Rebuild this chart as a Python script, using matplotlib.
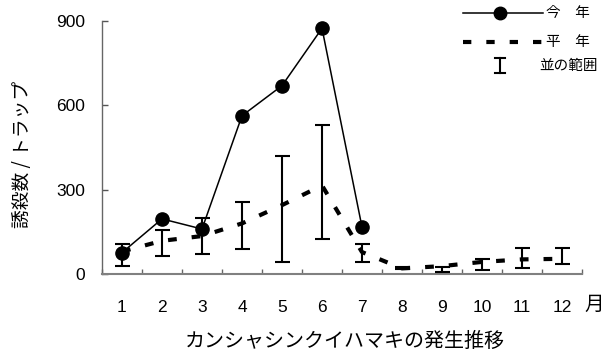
import matplotlib
matplotlib.use('Agg')
import matplotlib.pyplot as plt
from matplotlib.lines import Line2D
import numpy as np

plt.rcParams['font.family'] = ['Liberation Sans', 'Noto Sans CJK JP']

# ---- data ----
months = [1, 2, 3, 4, 5, 6, 7, 8, 9, 10, 11, 12]
month_labels = ['1', '2', '3', '4', '5', '6', '7', '8', '9', '10', '11', '12']
this_year_months = [1, 2, 3, 4, 5, 6, 7]
this_year = [76, 196, 160, 563, 670, 874, 167]
normal_year = [80, 118, 135, 180, 245, 315, 78, 20, 28, 43, 52, 54]
range_low = [30, 64, 72, 88, 43, 123, 43, 17, 8, 14, 22, 34]
range_high = [108, 157, 199, 256, 420, 531, 107, 26, 26, 52, 94, 94]
yticks = [0, 300, 600, 900]
ytick_labels = ['0', '300', '600', '900']

legend_labels = ['今\u3000年', '平\u3000年', '並の範囲']
ylabel = '誘殺数 / トラップ'
xunit = '月'
title = 'カンシャシンクイハマキの発生推移'

W, H = 605, 355
fig = plt.figure(figsize=(W / 100, H / 100), dpi=100)

def fx(px):
    return px / W

def fy(py):
    return 1 - py / H

ax = fig.add_axes([fx(102), fy(274), fx(582) - fx(102), fy(21) - fy(274)])

low = np.array(range_low, dtype=float)
high = np.array(range_high, dtype=float)
mid = (low + high) / 2

# normal-year dashed line
ax.plot(months, normal_year, color='black', lw=3.0,
        linestyle=(0, (2.1, 3.6)), dash_capstyle='butt', zorder=2)
# range bars
ax.errorbar(months, mid, yerr=[mid - low, high - mid], fmt='none',
            ecolor='black', elinewidth=1.5, capsize=5.4, capthick=1.5, zorder=3)
# this year
ax.plot(this_year_months, this_year, color='black', lw=1.1, marker='o',
        ms=9.5, zorder=4)

ax.set_xlim(0.5, 12.5)
ax.set_ylim(0, 900)

for s in ['top', 'right']:
    ax.spines[s].set_visible(False)
ax.spines['left'].set_color('#666666')
ax.spines['left'].set_linewidth(1.0)
ax.spines['bottom'].set_color('#808080')
ax.spines['bottom'].set_linewidth(1.5)

ax.set_yticks(yticks)
ax.set_yticklabels(ytick_labels, fontsize=12.5)
ax.tick_params(axis='y', direction='in', length=4.5, width=1.0,
               color='#555555', pad=12)

ax.set_xticks(np.arange(0.5, 13.0, 1.0))
ax.set_xticklabels([])
ax.tick_params(axis='x', which='major', direction='in', length=3.8,
               width=1.0, color='#666666')
ax.set_xticks(months, minor=True)
ax.set_xticklabels(month_labels, minor=True, fontsize=12.5)
ax.tick_params(axis='x', which='minor', length=0, pad=18.5)

fig.text(fx(594), fy(304), xunit, fontsize=14, ha='center', va='center',
         family=['Noto Sans CJK JP'])
fig.text(fx(23), fy(154), ylabel, fontsize=13.5, rotation=90, ha='center',
         va='center', family=['Noto Sans CJK JP', 'DejaVu Sans'])
fig.text(fx(345), fy(341), title, fontsize=14.4, ha='center', va='center',
         family=['Noto Sans CJK JP'])

# ---- legend (drawn manually) ----
tf = fig.transFigure
fig.add_artist(Line2D([fx(463), fx(543)], [fy(13), fy(13)], color='black',
                      lw=1.1, transform=tf))
fig.add_artist(Line2D([fx(500)], [fy(13)], color='black', marker='o', ms=9,
                      lw=0, transform=tf))
fig.add_artist(Line2D([fx(463), fx(543)], [fy(42), fy(42)], color='black',
                      lw=3.0, linestyle=(0, (2.0, 3.6)), dash_capstyle='butt',
                      transform=tf))
fig.add_artist(Line2D([fx(500), fx(500)], [fy(58), fy(73)], color='black',
                      lw=1.5, transform=tf))
for yy in (58, 73):
    fig.add_artist(Line2D([fx(495), fx(505)], [fy(yy), fy(yy)], color='black',
                          lw=1.5, transform=tf))
fig.text(fx(546), fy(13), legend_labels[0], fontsize=10.5, ha='left',
         va='center', family=['Noto Sans CJK JP'])
fig.text(fx(546), fy(42), legend_labels[1], fontsize=10.5, ha='left',
         va='center', family=['Noto Sans CJK JP'])
fig.text(fx(539), fy(66), legend_labels[2], fontsize=10.5, ha='left',
         va='center', family=['Noto Sans CJK JP'])

fig.savefig('out.png', dpi=100)
